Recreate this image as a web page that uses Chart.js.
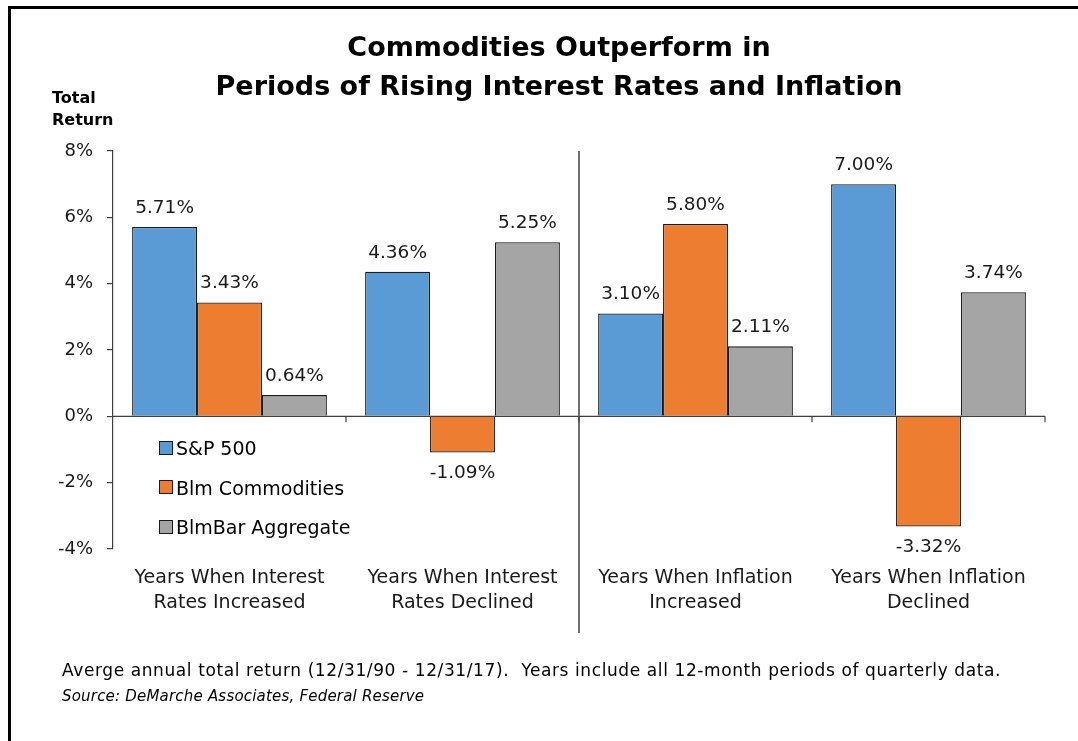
<!DOCTYPE html>
<html><head><meta charset="utf-8">
<script src="https://cdn.jsdelivr.net/npm/chart.js@4.4.0/dist/chart.umd.min.js"></script>
<style>
html,body{margin:0;padding:0;background:#fff;}
#wrap{position:relative;width:1078px;height:741px;overflow:hidden;font-family:"DejaVu Sans",sans-serif;color:#000;}
#frame{position:absolute;left:8px;top:6px;width:1300px;height:1000px;border-left:3px solid #000;border-top:3px solid #000;}
canvas{position:absolute;left:0;top:0;}
.title{position:absolute;left:0;width:1118px;text-align:center;font-weight:bold;font-size:27px;line-height:32px;white-space:nowrap;}
.ylab{position:absolute;left:52px;font-weight:bold;font-size:16px;line-height:20px;}
#legend{position:absolute;left:159px;top:436px;}
.li{position:relative;height:39.5px;font-size:19px;line-height:24px;white-space:nowrap;}
.li span.box{display:inline-block;width:12px;height:12px;border:1.5px solid #1a1a1a;vertical-align:middle;margin-right:3px;position:relative;top:-2px;}
.note{position:absolute;left:62px;font-size:17px;letter-spacing:0.6px;white-space:nowrap;}
.src{position:absolute;left:62px;font-size:15px;letter-spacing:0.2px;font-style:italic;white-space:nowrap;}
</style></head>
<body>
<div id="wrap">
  <div id="frame"></div>
  <canvas id="c" width="1078" height="741"></canvas>
  <div class="title" style="top:31px">Commodities Outperform in</div>
  <div class="title" style="top:70px">Periods of Rising Interest Rates and Inflation</div>
  <div class="ylab" style="top:88px">Total</div>
  <div class="ylab" style="top:110px">Return</div>
  <div id="legend"></div>
  <div class="note" style="top:660px">Averge annual total return (12/31/90 - 12/31/17).&nbsp; Years include all 12-month periods of quarterly data.</div>
  <div class="src" style="top:687px">Source: DeMarche Associates, Federal Reserve</div>
</div>
<script>
const categories = [["Years When Interest","Rates Increased"],["Years When Interest","Rates Declined"],["Years When Inflation","Increased"],["Years When Inflation","Declined"]];
const seriesNames = ["S&P 500","Blm Commodities","BlmBar Aggregate"];
const sp500 = [5.71, 4.36, 3.10, 7.00];
const blmCommodities = [3.43, -1.09, 5.80, -3.32];
const blmBarAggregate = [0.64, 5.25, 2.11, 3.74];
const yTicks = [-4, -2, 0, 2, 4, 6, 8];
const colors = ["#5B9BD5", "#ED7D31", "#A5A5A5"];
const seriesValues = [sp500, blmCommodities, blmBarAggregate];

const FONT = '"DejaVu Sans", sans-serif';

// legend (HTML, from series arrays)
const lg = document.getElementById('legend');
seriesNames.forEach((n, i) => {
  const d = document.createElement('div'); d.className = 'li';
  const b = document.createElement('span'); b.className = 'box'; b.style.background = colors[i];
  d.appendChild(b); d.appendChild(document.createTextNode(n));
  lg.appendChild(d);
});

const labelsPlugin = {
  id: 'valueLabels',
  afterDatasetsDraw(chart) {
    const ctx = chart.ctx;
    ctx.save();
    ctx.font = '18.5px ' + FONT;
    ctx.fillStyle = '#1a1a1a';
    ctx.textAlign = 'center';
    ctx.textBaseline = 'middle';
    chart.data.datasets.forEach((ds, di) => {
      const meta = chart.getDatasetMeta(di);
      meta.data.forEach((el, i) => {
        const v = ds.data[i];
        const y = v >= 0 ? el.y - 19 : el.y + 21;
        ctx.fillText(v.toFixed(2) + '%', el.x, y);
      });
    });
    ctx.restore();
  }
};

const axisPlugin = {
  id: 'zeroAxis',
  afterDatasetsDraw(chart) {
    const ctx = chart.ctx;
    const x = chart.scales.x, y = chart.scales.y;
    const y0 = y.getPixelForValue(0);
    const a = chart.chartArea;
    const n = categories.length;
    const step = (a.right - a.left) / n;
    ctx.save();
    ctx.strokeStyle = '#404040';
    ctx.lineWidth = 1.2;
    ctx.beginPath();
    ctx.moveTo(a.left, y0); ctx.lineTo(a.right, y0);
    for (let i = 1; i <= n; i++) {
      const xp = x.getPixelForValue(i - 1) + step / 2;
      ctx.moveTo(xp, y0); ctx.lineTo(xp, y0 + 6);
    }
    ctx.stroke();
    // separator between rate groups and inflation groups
    const xs = x.getPixelForValue(1) + step / 2;
    ctx.lineWidth = 1.5;
    ctx.beginPath();
    ctx.moveTo(xs, a.top); ctx.lineTo(xs, 633);
    ctx.stroke();
    ctx.restore();
  }
};

new Chart(document.getElementById('c'), {
  type: 'bar',
  data: {
    labels: categories,
    datasets: seriesNames.map((n, i) => ({
      label: n,
      data: seriesValues[i],
      backgroundColor: colors[i],
      borderColor: '#1a1a1a',
      borderWidth: 1.3,
      barPercentage: 1,
      categoryPercentage: 0.836
    }))
  },
  options: {
    responsive: false,
    animation: false,
    devicePixelRatio: 1,
    layout: { padding: { left: 54, top: 151, right: 33, bottom: 122 } },
    plugins: { legend: { display: false }, tooltip: { enabled: false }, title: { display: false } },
    scales: {
      x: {
        grid: { display: false, drawTicks: false },
        border: { display: false },
        ticks: { font: { family: FONT, size: 19, lineHeight: 1.3 }, color: '#1a1a1a', padding: 17, maxRotation: 0, autoSkip: false },
        afterFit(s) { s.height = 70; }
      },
      y: {
        min: -4, max: 8,
        afterBuildTicks(s) { s.ticks = yTicks.map(v => ({ value: v })); },
        grid: { display: true, drawOnChartArea: false, drawTicks: true, tickLength: 6, color: '#404040', lineWidth: 1.2 },
        border: { display: true, color: '#404040', width: 1.2 },
        ticks: { font: { family: FONT, size: 18 }, color: '#1a1a1a', padding: 14, callback: v => v + '%' },
        afterFit(s) { s.width = 59; }
      }
    }
  },
  plugins: [labelsPlugin, axisPlugin]
});
</script>
</body></html>
